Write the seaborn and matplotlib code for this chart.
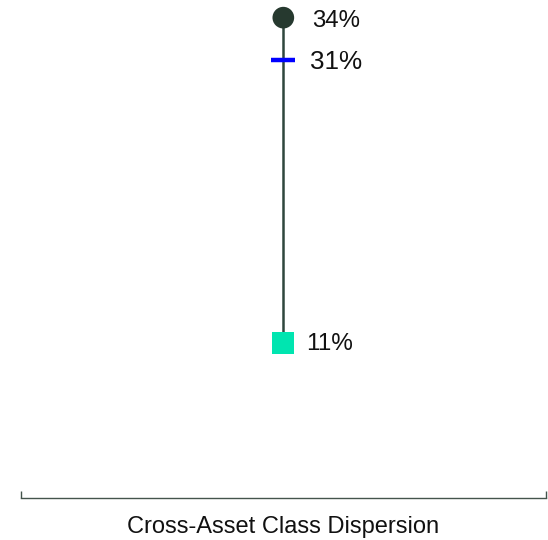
import matplotlib
matplotlib.use("Agg")
import matplotlib.pyplot as plt
import seaborn as sns
import pandas as pd

category = ["Cross-Asset Class Dispersion"]
high_val = [34]
mid_val = [31]
low_val = [11]
high_lbl = ["34%"]
mid_lbl = ["31%"]
low_lbl = ["11%"]

sns.set_style("white")
plt.rcParams['font.family'] = ['Liberation Sans', 'DejaVu Sans']

fig = plt.figure(figsize=(5.48, 5.40), dpi=100)
ax = fig.add_axes([0.0375, 1 - 498/540, 0.959, 498/540])

df = pd.DataFrame({"cat": [0], "high": high_val, "mid": mid_val, "low": low_val})

# connecting line
ax.plot([0, 0], [df["low"][0], df["high"][0]], color="#2f463d", lw=1.8, zorder=1)

sns.scatterplot(data=df, x="cat", y="high", marker="o", s=15.6**2, color="#26392f",
                edgecolor="none", ax=ax, zorder=3)
sns.scatterplot(data=df, x="cat", y="low", marker="s", s=15.8**2, color="#00e5b0",
                edgecolor="none", ax=ax, zorder=3)
ax.plot(df["cat"], df["mid"], marker="_", markersize=17, mew=3.2, color="#0000ff",
        linestyle="none", zorder=4)

ax.annotate(high_lbl[0], (0, high_val[0]), xytext=(29*0.72, -3*0.72), textcoords="offset points",
            va="center", ha="left", fontsize=17.3, color="#111111")
ax.annotate(mid_lbl[0], (0, mid_val[0]), xytext=(27*0.72, -2*0.72), textcoords="offset points",
            va="center", ha="left", fontsize=18.8, color="#111111")
ax.annotate(low_lbl[0], (0, low_val[0]), xytext=(23*0.72, -1.5*0.72), textcoords="offset points",
            va="center", ha="left", fontsize=17.5, color="#111111")

ax.set_xlim(-1, 1)
ax.set_ylim(0, 35.25)
ax.set_yticks([])
ax.set_xticks([-1, 1])
ax.set_xticklabels(["", ""])
ax.tick_params(axis="x", direction="in", length=5, width=1, color="#44544c", bottom=True)
for s in ["top", "left", "right"]:
    ax.spines[s].set_visible(False)
ax.spines["bottom"].set_color("#44544c")
ax.spines["bottom"].set_linewidth(1)
ax.set_xlabel(category[0], fontsize=17, color="#111111", labelpad=9.5)
ax.set_ylabel("")

fig.savefig("out.png", dpi=100)
